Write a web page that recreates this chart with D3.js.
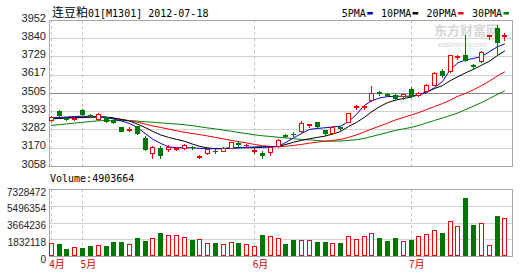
<!DOCTYPE html>
<html>
<head>
<meta charset="utf-8">
<script src="https://cdn.jsdelivr.net/npm/d3@7"></script>
<style>
  body { margin: 0; background: #fff; }
  svg { display: block; }
</style>
</head>
<body>
<svg width="522" height="273"></svg>
<script>
// 交易日
const dates = [
  "04-24","04-25","04-26","04-27",
  "05-02","05-03","05-04","05-07","05-08","05-09","05-10","05-11","05-14","05-15","05-16","05-17","05-18","05-21","05-22","05-23","05-24","05-25","05-28","05-29","05-30","05-31",
  "06-01","06-04","06-05","06-06","06-07","06-08","06-11","06-12","06-13","06-14","06-15","06-18","06-19","06-20","06-21","06-25","06-26","06-27","06-28","06-29",
  "07-02","07-03","07-04","07-05","07-06","07-09","07-10","07-11","07-12","07-13","07-16","07-17","07-18"
];

// K线 开高低收
const open  = [3342,3393,3352,3345,3398,3372,3345,3357,3340,3295, 3280,3300,3232,3140,3168,3165,3164,3166,3175,3115, 3135,3152,3150,3170,3198,3184,3150,3140,3145,3178, 3248,3256,3272,3308,3326,3276,3260,3294,3328,3420, 3418,3460,3511,3500,3495,3488,3530,3492,3518,3555, 3640,3638,3725,3738,3676,3698,3855,3900,3852];
const high  = [3362,3398,3356,3356,3408,3376,3380,3360,3345,3298, 3296,3305,3240,3180,3182,3184,3176,3192,3182,3126, 3166,3160,3172,3206,3212,3195,3168,3150,3178,3224, 3252,3266,3332,3315,3328,3280,3300,3302,3384,3432, 3430,3545,3518,3505,3500,3500,3544,3512,3558,3632, 3650,3740,3740,3860,3685,3760,3860,3922,3870];
const low   = [3336,3366,3340,3342,3370,3362,3340,3328,3322,3272, 3270,3255,3155,3108,3105,3150,3156,3160,3165,3106, 3130,3140,3148,3166,3182,3176,3140,3110,3128,3175, 3238,3240,3268,3295,3298,3250,3255,3278,3325,3408, 3410,3455,3495,3488,3468,3470,3480,3485,3515,3552, 3605,3635,3715,3700,3655,3695,3835,3740,3830];
const close = [3358,3370,3345,3352,3374,3366,3377,3332,3330,3275, 3285,3260,3165,3176,3125,3172,3168,3188,3172,3118, 3162,3148,3168,3203,3194,3188,3156,3124,3175,3220, 3244,3252,3322,3313,3302,3262,3297,3290,3382,3426, 3424,3502,3507,3494,3472,3496,3486,3508,3555,3630, 3615,3738,3732,3710,3670,3756,3858,3820,3862];

// 成交量
const volume = [1430000,1330000,790000,1000000,900000,1080000,1220000,1080000,1510000,1510000,
  1330000,1970000,1650000,1970000,2510000,2260000,2260000,2080000,1760000,1830000,
  1430000,1430000,1290000,1510000,1400000,1290000,1080000,2300000,2160000,1970000,
  1290000,1760000,1760000,1760000,1510000,1510000,1400000,1400000,2190000,1900000,
  2190000,2480000,1970000,1620000,1970000,1620000,1720000,2190000,2370000,2830000,
  2480000,3800000,3230000,6360000,3410000,3590000,1190000,4420000,4200000];

// 均线
const ma5  = [3353,3355,3358,3361,3363,3362,3359,3355,3346,3333, 3318,3294,3257,3221,3196,3175,3170,3170,3169,3166, 3164,3164,3164,3166,3169,3172,3175,3176,3176,3178, 3202,3231,3257,3282,3288,3292,3297,3302,3330,3373, 3428,3458,3475,3483,3485,3485,3486,3495,3507,3538, 3574,3647,3690,3708,3717,3728,3757,3787,3806];
const ma10 = [3347,3349,3351,3353,3355,3357,3359,3358,3352,3343, 3333,3315,3294,3269,3248,3233,3221,3210,3193,3178, 3169,3164,3166,3169,3170,3170,3170,3172,3175,3178, 3190,3204,3215,3225,3233,3241,3254,3269,3300,3324, 3355,3391,3422,3446,3461,3471,3480,3495,3513,3532, 3550,3580,3605,3629,3650,3675,3699,3733,3763];
const ma20 = [3353,3354,3355,3356,3357,3358,3359,3355,3349,3343, 3336,3327,3315,3303,3294,3284,3274,3265,3257,3250, 3242,3233,3224,3215,3207,3199,3190,3182,3178,3176, 3179,3184,3190,3198,3204,3210,3215,3221,3233,3248, 3266,3285,3303,3321,3340,3355,3370,3385,3404,3422, 3440,3461,3485,3503,3525,3550,3577,3608,3635];
const ma30 = [3306,3311,3316,3321,3326,3330,3335,3336,3336,3336, 3336,3333,3329,3326,3322,3318,3315,3311,3305,3298, 3291,3285,3278,3271,3263,3256,3249,3243,3239,3234, 3230,3225,3221,3218,3214,3210,3210,3211,3215,3219, 3227,3239,3251,3263,3276,3285,3294,3307,3322,3337, 3352,3367,3383,3404,3425,3446,3471,3495,3519];

const maNames  = ["5PMA", "10PMA", "20PMA", "30PMA"];
const maColors = ["#0000cc", "#000000", "#ee0000", "#008000"];

// 刻度
const priceTicks  = [3058, 3170, 3282, 3393, 3505, 3617, 3729, 3840, 3952];
const volumeTicks = [0, 1832118, 3664236, 5496354, 7328472];

const title = ["连豆粕", "01[M1301] 2012-07-18"];
const volumeText = "Volume:4903664";

const svg = d3.select("svg");
const left = 49, right = 512;
const priceTop = 20, priceBottom = 166;
const volTop = 189, volBottom = 256;
const red = "#ee0000", green = "#007700";
const mono = "'DejaVu Sans Mono', 'Liberation Mono', monospace";
const cjk = "'Noto Sans CJK SC', sans-serif";

const idx = d3.range(dates.length);
const x = d3.scalePoint().domain(dates).range([50.8, 504.4]);
const priceY = d3.scaleLinear().domain([3058, 3952]).range([priceBottom, priceTop]);
const volY = d3.scaleLinear().domain([0, 7328472]).range([volBottom, volTop]);

const px = i => Math.round(x(dates[i]));
const up = i => close[i] >= open[i];
const crisp = v => Math.round(v) + 0.5;

// 月份起点
const monthStarts = dates.filter((d, i) => i === 0 || d.slice(0, 2) !== dates[i - 1].slice(0, 2));

// 水印
const wm = svg.append("text").attr("fill", "#d6d6d6");
wm.append("tspan").attr("x", 434).attr("y", 35)
  .style("font-family", cjk).style("font-size", "13px").style("font-weight", "bold")
  .text("东方财富网");
wm.append("tspan").attr("x", 438).attr("y", 47)
  .style("font-family", "'Liberation Sans', sans-serif").style("font-size", "7px")
  .text("eastmoney.com");

// 网格线
function grid(scale, ticks, y0, y1, darkTick) {
  const g = svg.append("g");
  g.selectAll("line.h").data(ticks.slice(1, -1)).join("line")
    .attr("x1", left).attr("x2", right)
    .attr("y1", d => crisp(scale(d))).attr("y2", d => crisp(scale(d)))
    .attr("stroke", d => d === darkTick ? "#8c8c8c" : "#d2d2d2");
  g.selectAll("line.v").data(monthStarts).join("line")
    .attr("x1", d => Math.round(x(d)) + 0.5).attr("x2", d => Math.round(x(d)) + 0.5)
    .attr("y1", y0).attr("y2", y1)
    .attr("stroke", "#c4c4c4").attr("stroke-dasharray", "3,3");
  g.append("rect")
    .attr("x", left + 0.5).attr("y", y0 + 0.5)
    .attr("width", right - left).attr("height", y1 - y0)
    .attr("fill", "none").attr("stroke", "#a6a6a6");
}
grid(priceY, priceTicks, priceTop, priceBottom, 3505);
grid(volY, volumeTicks, volTop, volBottom, null);

// 坐标轴文字
const priceAxis = svg.append("g").attr("transform", `translate(${left},0)`)
  .call(d3.axisLeft(priceY).tickValues(priceTicks).tickSize(0).tickPadding(3).tickFormat(d3.format("d")));
priceAxis.select(".domain").remove();
priceAxis.selectAll("text").attr("y", -2.5)
  .style("font-family", "'Liberation Sans', Arial, sans-serif").style("font-size", "11px").attr("fill", "#222");

const volAxis = svg.append("g").attr("transform", `translate(${left},0)`)
  .call(d3.axisLeft(volY).tickValues(volumeTicks).tickSize(0).tickPadding(3).tickFormat(d3.format("d")));
volAxis.select(".domain").remove();
volAxis.selectAll("text").attr("y", 3)
  .style("font-family", "'Liberation Sans', Arial, sans-serif").style("font-size", "10px").attr("fill", "#222");

const monthAxis = svg.append("g").attr("transform", `translate(0,${volBottom})`)
  .call(d3.axisBottom(x).tickValues(monthStarts).tickSize(0)
    .tickFormat(d => +d.slice(0, 2) + "月"));
monthAxis.select(".domain").remove();
monthAxis.selectAll("text").attr("text-anchor", "start").attr("x", -2).attr("y", 12).attr("dy", 0)
  .style("font-family", cjk).style("font-size", "10px").attr("fill", "#cc0000");

// 均线
const line = d3.line().x((v, i) => x(dates[i]) + 0.5).y(v => priceY(v));
[ma30, ma20, ma10, ma5].forEach((s, k) => {
  svg.append("path").datum(s).attr("d", line)
    .attr("fill", "none").attr("stroke", maColors[3 - k]).attr("stroke-width", 1);
});

// K线
svg.append("g").selectAll("line").data(idx).join("line")
  .attr("x1", i => px(i) + 0.5).attr("x2", i => px(i) + 0.5)
  .attr("y1", i => Math.round(priceY(high[i]))).attr("y2", i => Math.round(priceY(low[i])) + 1)
  .attr("stroke", i => up(i) ? red : green);

const bodyTop = i => Math.round(priceY(Math.max(open[i], close[i])));
const bodyBot = i => Math.round(priceY(Math.min(open[i], close[i])));
svg.append("g").selectAll("rect").data(idx.filter(i => bodyBot(i) - bodyTop(i) >= 1)).join("rect")
  .attr("x", i => px(i) - 1.5).attr("y", i => bodyTop(i) + 0.5)
  .attr("width", 4).attr("height", i => bodyBot(i) - bodyTop(i))
  .attr("fill", i => up(i) ? "#fff" : green)
  .attr("stroke", i => up(i) ? red : green);
svg.append("g").selectAll("line").data(idx.filter(i => bodyBot(i) - bodyTop(i) < 1)).join("line")
  .attr("x1", i => px(i) - 2).attr("x2", i => px(i) + 3)
  .attr("y1", i => bodyTop(i) + 0.5).attr("y2", i => bodyTop(i) + 0.5)
  .attr("stroke", i => up(i) ? red : green);

// 成交量柱
svg.append("g").selectAll("rect").data(idx).join("rect")
  .attr("x", i => px(i) - 1.5).attr("y", i => Math.round(volY(volume[i])) + 0.5)
  .attr("width", 4).attr("height", i => volBottom - Math.round(volY(volume[i])) - 1)
  .attr("fill", i => up(i) ? "#fff" : green)
  .attr("stroke", i => up(i) ? red : green);

// 标题
const t = svg.append("text").attr("x", 52).attr("y", 17).attr("fill", "#000");
t.append("tspan").style("font-family", cjk).style("font-size", "12px").text(title[0]);
t.append("tspan").style("font-family", mono).style("font-size", "10px").text(title[1]);

// 图例
let lx = 341.7;
maNames.forEach((name, k) => {
  svg.append("text").attr("x", lx).attr("y", 17)
    .style("font-family", mono).style("font-size", "10px").attr("fill", "#000").text(name);
  lx += name.length * 6.02 + 1.5;
  svg.append("rect").attr("x", lx).attr("y", 12).attr("width", 5.5).attr("height", 2.5).attr("fill", maColors[k]);
  lx += 5.5 + 8.3;
});

svg.append("text").attr("x", 50).attr("y", 182)
  .style("font-family", mono).style("font-size", "10px").attr("fill", "#000").text(volumeText);
</script>
</body>
</html>
